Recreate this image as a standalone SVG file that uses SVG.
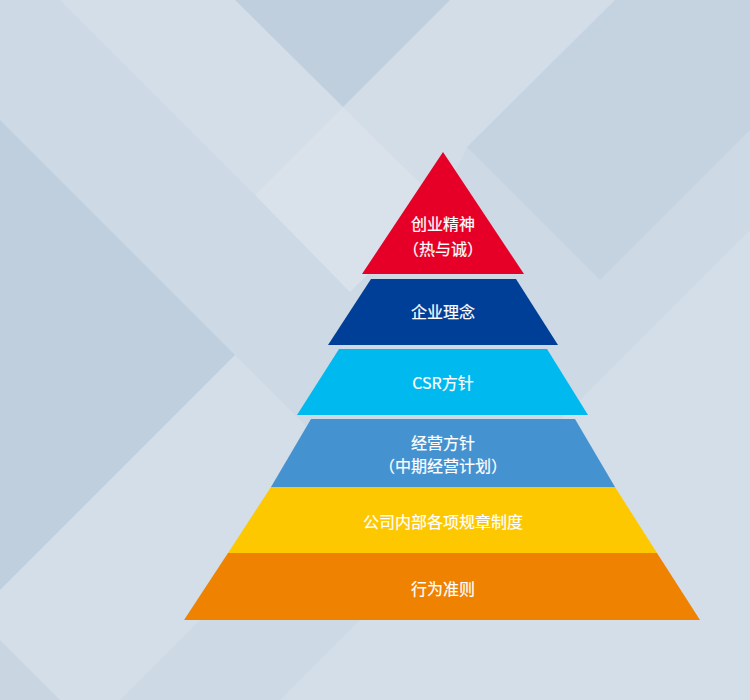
<svg xmlns="http://www.w3.org/2000/svg" width="750" height="700" viewBox="0 0 750 700">
  <defs>
    <style>
      .lbl { font-family: "Noto Sans CJK SC", "Noto Sans", sans-serif; font-size: 16px; fill: #ffffff; stroke: #ffffff; stroke-width: 0.2px; text-anchor: middle; }
      .bgl { fill: #ffffff; }
      .bgd { fill: #5f83a8; }
    </style>
  </defs>
  <g id="background">
    <rect x="0" y="0" width="750" height="700" fill="#CDD9E5"/>
    <polygon class="bgd" opacity="0.11" points="235,0 450,0 343,107"/>
    <polygon class="bgd" opacity="0.11" points="0,120 235,355 0,590"/>
    <polygon class="bgd" opacity="0.07" points="615,0 750,0 750,130 600,280 467,147"/>
    <polygon class="bgl" opacity="0.25" points="255,195 343,107 440,203 350,292"/>
    <polygon class="bgl" opacity="0.15" points="0,0 235,0 343,107 255,195 0,-60"/>
    <polygon class="bgl" opacity="0.12" points="450,0 615,0 467,147 440,203 343,107"/>
    <polygon class="bgl" opacity="0.14" points="750,230 750,700 280,700"/>
    <polygon class="bgl" opacity="0.13" points="0,590 235,355 350,470 230,590 120,700 0,700"/>
    <polygon class="bgd" opacity="0.08" points="0,640 60,700 0,700"/>
  </g>
  <g id="layer-1">
    <polygon points="443,152 524,274 362,274" fill="#E60027"/>
    <text class="lbl" x="443" y="230">创业精神</text>
    <text class="lbl" x="443" y="255">（热与诚）</text>
  </g>
  <g id="layer-2">
    <polygon points="371,279 516,279 558,345 328,345" fill="#003F98"/>
    <text class="lbl" x="443" y="318">企业理念</text>
  </g>
  <g id="layer-3">
    <polygon points="339,349 547,349 588,415 297,415" fill="#00B9EF"/>
    <text class="lbl" x="443" y="389">CSR方针</text>
  </g>
  <g id="layer-4">
    <polygon points="311,419 575,419 615,487 271,487" fill="#4592D1"/>
    <text class="lbl" x="443" y="449">经营方针</text>
    <text class="lbl" x="443" y="472">（中期经营计划）</text>
  </g>
  <g id="layer-5">
    <polygon points="271,487 615,487 657,553 228,553" fill="#FDC800"/>
    <text class="lbl" x="443" y="527.5">公司内部各项规章制度</text>
  </g>
  <g id="layer-6">
    <polygon points="228,553 657,553 700,620 184,620" fill="#EF8200"/>
    <text class="lbl" x="443" y="594.5">行为准则</text>
  </g>
  <g id="connectors"/>
</svg>
